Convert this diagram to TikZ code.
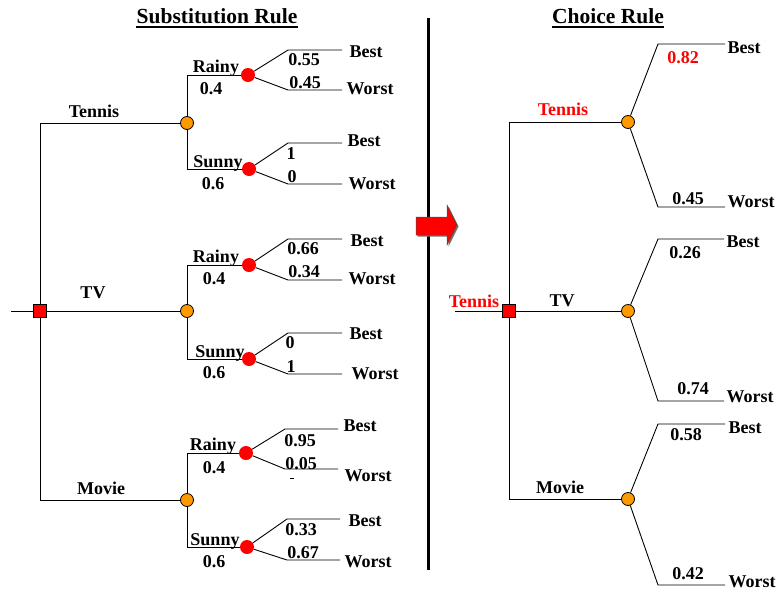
\documentclass[tikz,border=0pt]{standalone}
\usepackage{fontspec}
\setmainfont{Liberation Serif}
\definecolor{chanceorange}{RGB}{255,153,0}
\definecolor{eventred}{RGB}{255,0,0}
\definecolor{arrowred}{RGB}{255,0,0}
\begin{document}
\begin{tikzpicture}[x=1pt,y=-1pt,
  branch/.style={draw=black, line width=0.9pt},
  lbl/.style={font=\fontsize{18}{20}\selectfont\bfseries, inner sep=0pt,
              text height=11.9pt, text depth=0pt, anchor=center},
  hot/.style={lbl, text=eventred},
  title/.style={font=\fontsize{21.5}{24}\selectfont\bfseries, inner sep=0pt, anchor=base},
  decision/.style={draw=black, fill=eventred, minimum size=13pt, inner sep=0pt, line width=0.8pt},
  chance/.style={circle, draw=black, fill=chanceorange, minimum size=13pt, inner sep=0pt, line width=0.8pt},
  event/.style={circle, fill=eventred, minimum size=14pt, inner sep=0pt},
]
\useasboundingbox (0,0) rectangle (779,592);

% ---------- titles ----------
\node[title] (tsub) at (217,23) {Substitution Rule};
\draw[line width=2pt] ([yshift=-3.5pt]tsub.base west) -- ([yshift=-3.5pt]tsub.base east);
\node[title] (tcho) at (608,23) {Choice Rule};
\draw[line width=2pt] ([yshift=-3.5pt]tcho.base west) -- ([yshift=-3.5pt]tcho.base east);

% ---------- divider and transformation arrow ----------
\coordinate (divtop) at (428,18);
\coordinate (divbot) at (428,570);
\draw[line width=3pt] (divtop) -- (divbot);
\fill[black!55] (417.5,218.5) -- (448.5,218.5) -- (448.5,206.5) -- (458.5,226.5)
      -- (448.5,246.5) -- (448.5,236.5) -- (417.5,236.5) -- cycle;
\draw[fill=arrowred, draw=black!70, line width=0.5pt]
      (416,217) -- (447,217) -- (447,205) -- (457,225) -- (447,245) -- (447,235) -- (416,235) -- cycle;

% ================= LEFT TREE =================
\coordinate (Lin) at (11,311);
\node[decision] (LD) at (40,311) {};
\node[chance] (LCt) at (187,123) {};
\node[chance] (LCv) at (187,311) {};
\node[chance] (LCm) at (187,500) {};

\draw[branch] (Lin) -- (LD);
\draw[branch] (LD) |- (LCt);
\draw[branch] (LD) -- (LCv);
\draw[branch] (LD) |- (LCm);

\node[lbl] (lTennis) at (94,112) {Tennis};
\node[lbl] (lTV) at (93,293) {TV};
\node[lbl] (lMovie) at (101,489) {Movie};

% weather events
\node[event] (LRt) at (248,75) {};
\node[event] (LSt) at (249,169) {};
\node[event] (LRv) at (249,265) {};
\node[event] (LSv) at (249,359) {};
\node[event] (LRm) at (246,453) {};
\node[event] (LSm) at (247,547) {};

\draw[branch] (LCt) |- (LRt);
\draw[branch] (LCt) |- (LSt);
\draw[branch] (LCv) |- (LRv);
\draw[branch] (LCv) |- (LSv);
\draw[branch] (LCm) |- (LRm);
\draw[branch] (LCm) |- (LSm);

\node[lbl] at (216,67) {Rainy};
\node[lbl] at (211,89) {0.4};
\node[lbl] at (218,162) {Sunny};
\node[lbl] at (213,184) {0.6};

\node[lbl] at (216,257) {Rainy};
\node[lbl] at (214,279) {0.4};
\node[lbl] at (220,352) {Sunny};
\node[lbl] at (214,373) {0.6};

\node[lbl] at (213,445) {Rainy};
\node[lbl] at (214,468) {0.4};
\node[lbl] at (215,540) {Sunny};
\node[lbl] at (214,562) {0.6};

% outcome branches: Tennis
\coordinate (a1) at (288,50);  \coordinate (a1e) at (342,50);
\coordinate (a2) at (288,90);  \coordinate (a2e) at (342,90);
\coordinate (a3) at (288,143); \coordinate (a3e) at (342,143);
\coordinate (a4) at (288,184); \coordinate (a4e) at (342,184);
\draw[branch] (LRt) -- (a1) -- (a1e);
\draw[branch] (LRt) -- (a2) -- (a2e);
\draw[branch] (LSt) -- (a3) -- (a3e);
\draw[branch] (LSt) -- (a4) -- (a4e);
\node[lbl] at (304,60) {0.55};
\node[lbl] at (305,83) {0.45};
\node[lbl] at (291,154) {1};
\node[lbl] at (292,177) {0};
\node[lbl] at (366,52) {Best};
\node[lbl] at (370,89) {Worst};
\node[lbl] at (364,141) {Best};
\node[lbl] at (372,184) {Worst};

% outcome branches: TV
\coordinate (b1) at (288,239); \coordinate (b1e) at (342,239);
\coordinate (b2) at (288,280); \coordinate (b2e) at (342,280);
\coordinate (b3) at (288,333); \coordinate (b3e) at (342,333);
\coordinate (b4) at (288,374); \coordinate (b4e) at (342,374);
\draw[branch] (LRv) -- (b1) -- (b1e);
\draw[branch] (LRv) -- (b2) -- (b2e);
\draw[branch] (LSv) -- (b3) -- (b3e);
\draw[branch] (LSv) -- (b4) -- (b4e);
\node[lbl] at (303,249) {0.66};
\node[lbl] at (304,272) {0.34};
\node[lbl] at (290,343) {0};
\node[lbl] at (291,367) {1};
\node[lbl] at (367,241) {Best};
\node[lbl] at (372,279) {Worst};
\node[lbl] at (366,334) {Best};
\node[lbl] at (375,374) {Worst};

% outcome branches: Movie
\coordinate (c1) at (285,429); \coordinate (c1e) at (338,429);
\coordinate (c2) at (285,469); \coordinate (c2e) at (338,469);
\coordinate (c3) at (287,519); \coordinate (c3e) at (340,519);
\coordinate (c4) at (287,560); \coordinate (c4e) at (340,560);
\draw[branch] (LRm) -- (c1) -- (c1e);
\draw[branch] (LRm) -- (c2) -- (c2e);
\draw[branch] (LSm) -- (c3) -- (c3e);
\draw[branch] (LSm) -- (c4) -- (c4e);
\node[lbl] at (300,441) {0.95};
\node[lbl] at (301,464) {0.05};
\draw[line width=0.8pt] (289.5,478) -- (293.5,478);
\node[lbl] at (301,530) {0.33};
\node[lbl] at (303,553) {0.67};
\node[lbl] at (360,426) {Best};
\node[lbl] at (368,476) {Worst};
\node[lbl] at (365,521) {Best};
\node[lbl] at (368,562) {Worst};

% ================= RIGHT TREE =================
\coordinate (Rin) at (455,311);
\node[decision] (RD) at (509,311) {};
\node[chance] (RCt) at (628,122) {};
\node[chance] (RCv) at (628,311) {};
\node[chance] (RCm) at (628,499) {};

\draw[branch] (Rin) -- (RD);
\draw[branch] (RD) |- (RCt);
\draw[branch] (RD) -- (RCv);
\draw[branch] (RD) |- (RCm);

\node[hot] at (474,302) {Tennis};
\node[hot] at (563,110) {Tennis};
\node[lbl] at (562,301) {TV};
\node[lbl] at (560,488) {Movie};

\coordinate (d1) at (658,44);  \coordinate (d1e) at (725,44);
\coordinate (d2) at (658,207); \coordinate (d2e) at (725,207);
\coordinate (e1) at (658,239); \coordinate (e1e) at (724,239);
\coordinate (e2) at (658,401); \coordinate (e2e) at (724,401);
\coordinate (f1) at (658,424); \coordinate (f1e) at (725,424);
\coordinate (f2) at (658,585); \coordinate (f2e) at (725,585);
\draw[branch] (RCt) -- (d1) -- (d1e);
\draw[branch] (RCt) -- (d2) -- (d2e);
\draw[branch] (RCv) -- (e1) -- (e1e);
\draw[branch] (RCv) -- (e2) -- (e2e);
\draw[branch] (RCm) -- (f1) -- (f1e);
\draw[branch] (RCm) -- (f2) -- (f2e);

\node[hot] at (683,58) {0.82};
\node[lbl] at (744,48) {Best};
\node[lbl] at (688,199) {0.45};
\node[lbl] at (751,202) {Worst};

\node[lbl] at (685,253) {0.26};
\node[lbl] at (743,242) {Best};
\node[lbl] at (693,389) {0.74};
\node[lbl] at (750,397) {Worst};

\node[lbl] at (686,435) {0.58};
\node[lbl] at (745,428) {Best};
\node[lbl] at (688,574) {0.42};
\node[lbl] at (752,582) {Worst};

\end{tikzpicture}
\end{document}
